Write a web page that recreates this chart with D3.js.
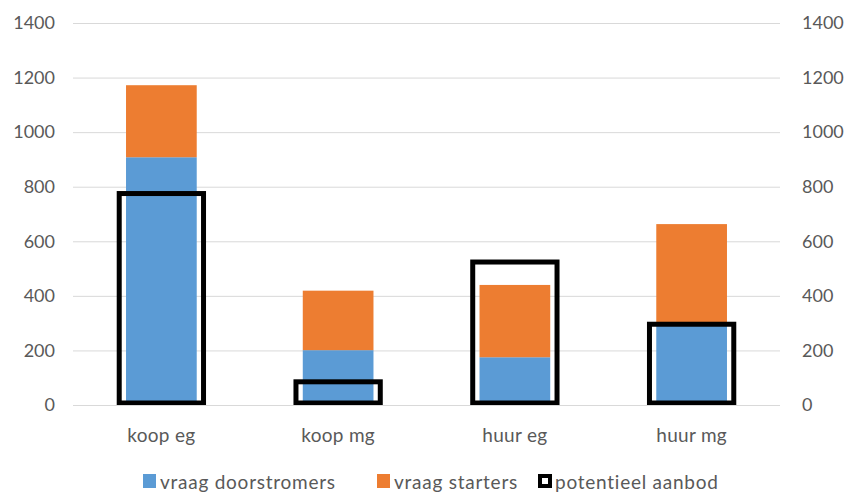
<!DOCTYPE html>
<html>
<head>
<meta charset="utf-8">
<script src="https://cdn.jsdelivr.net/npm/d3@7/dist/d3.min.js"></script>
<style>
  html, body { margin: 0; padding: 0; background: #fff; }
  svg text { font-family: Lato, "Liberation Sans", sans-serif; fill: #595959; }
</style>
</head>
<body>
<svg id="chart" width="846" height="492"></svg>
<script>
// Woningmarkt: vraag (gestapeld) tegenover potentieel aanbod per segment
const categories = ["koop eg", "koop mg", "huur eg", "huur mg"];
const vraagDoorstromers = [908, 201, 175, 296];
const vraagStarters = [264, 218, 265, 367];
const potentieelAanbod = [775, 85, 524, 296];
const yTicks = [0, 200, 400, 600, 800, 1000, 1200, 1400];
const seriesNames = ["vraag doorstromers", "vraag starters", "potentieel aanbod"];
const colors = { doorstromers: "#5b9bd5", starters: "#ed7d31", aanbod: "#000000" };

const svg = d3.select("#chart");
const plot = { left: 73, right: 780, top: 23, bottom: 405 };

const x = d3.scaleBand().domain(categories).range([plot.left, plot.right]).paddingInner(0).paddingOuter(0);
const y = d3.scaleLinear().domain([0, 1400]).range([plot.bottom, plot.top]);

// gridlines
svg.append("g").selectAll("line").data(yTicks).join("line")
  .attr("x1", plot.left).attr("x2", plot.right)
  .attr("y1", d => y(d) + 0.5).attr("y2", d => y(d) + 0.5)
  .attr("stroke", "#d9d9d9").attr("stroke-width", 1);

// left and right value axes
const fmt = d3.format("d");
const leftAxis = svg.append("g").attr("transform", `translate(${plot.left - 18},0)`)
  .call(d3.axisLeft(y).tickValues(yTicks).tickFormat(fmt).tickSize(0).tickPadding(0));
const rightAxis = svg.append("g").attr("transform", `translate(${plot.right + 22},0)`)
  .call(d3.axisRight(y).tickValues(yTicks).tickFormat(fmt).tickSize(0).tickPadding(0));
[leftAxis, rightAxis].forEach(a => {
  a.select(".domain").remove();
  a.selectAll("text").style("font-size", "18px").attr("fill", "#595959")
    .style("font-family", "Lato, 'Liberation Sans', sans-serif");
});

const barW = x.bandwidth() * 0.40;
const boxW = x.bandwidth() * 0.477;
const cx = d => x(d) + x.bandwidth() / 2;

// stacked demand bars
svg.append("g").selectAll("rect").data(categories).join("rect")
  .attr("x", d => cx(d) - barW / 2)
  .attr("width", barW)
  .attr("y", (d, i) => y(vraagDoorstromers[i]))
  .attr("height", (d, i) => y(0) - y(vraagDoorstromers[i]))
  .attr("fill", colors.doorstromers);

svg.append("g").selectAll("rect").data(categories).join("rect")
  .attr("x", d => cx(d) - barW / 2)
  .attr("width", barW)
  .attr("y", (d, i) => y(vraagDoorstromers[i] + vraagStarters[i]))
  .attr("height", (d, i) => y(vraagDoorstromers[i]) - y(vraagDoorstromers[i] + vraagStarters[i]))
  .attr("fill", colors.starters);

// potential supply as outlined boxes
svg.append("g").selectAll("rect").data(categories).join("rect")
  .attr("x", d => cx(d) - boxW / 2)
  .attr("width", boxW)
  .attr("y", (d, i) => y(potentieelAanbod[i]))
  .attr("height", (d, i) => y(0) - 2 - y(potentieelAanbod[i]))
  .attr("fill", "none")
  .attr("stroke", colors.aanbod)
  .attr("stroke-width", 5);

// axis line under the bars
svg.append("line")
  .attr("x1", plot.left).attr("x2", plot.right)
  .attr("y1", y(0) + 0.5).attr("y2", y(0) + 0.5)
  .attr("stroke", "#d9d9d9");

// category labels
svg.append("g").selectAll("text").data(categories).join("text")
  .attr("x", d => cx(d)).attr("y", 442)
  .attr("text-anchor", "middle")
  .style("font-size", "19px")
  .style("letter-spacing", "0.3px")
  .text(d => d);

// legend
const legendItems = [
  { name: seriesNames[0], x: 143, type: "fill", color: colors.doorstromers },
  { name: seriesNames[1], x: 377, type: "fill", color: colors.starters },
  { name: seriesNames[2], x: 538, type: "box", color: colors.aanbod }
];
const lg = svg.append("g").selectAll("g").data(legendItems).join("g")
  .attr("transform", d => `translate(${d.x},0)`);
lg.filter(d => d.type === "fill").append("rect")
  .attr("x", 0).attr("y", 474).attr("width", 13).attr("height", 14)
  .attr("fill", d => d.color);
lg.filter(d => d.type === "box").append("rect")
  .attr("x", 2).attr("y", 476).attr("width", 10).attr("height", 10)
  .attr("fill", "none").attr("stroke", d => d.color).attr("stroke-width", 4);
lg.append("text")
  .attr("x", 17).attr("y", 489)
  .style("font-size", "19px")
  .style("letter-spacing", "0.75px")
  .text(d => d.name);
</script>
</body>
</html>
